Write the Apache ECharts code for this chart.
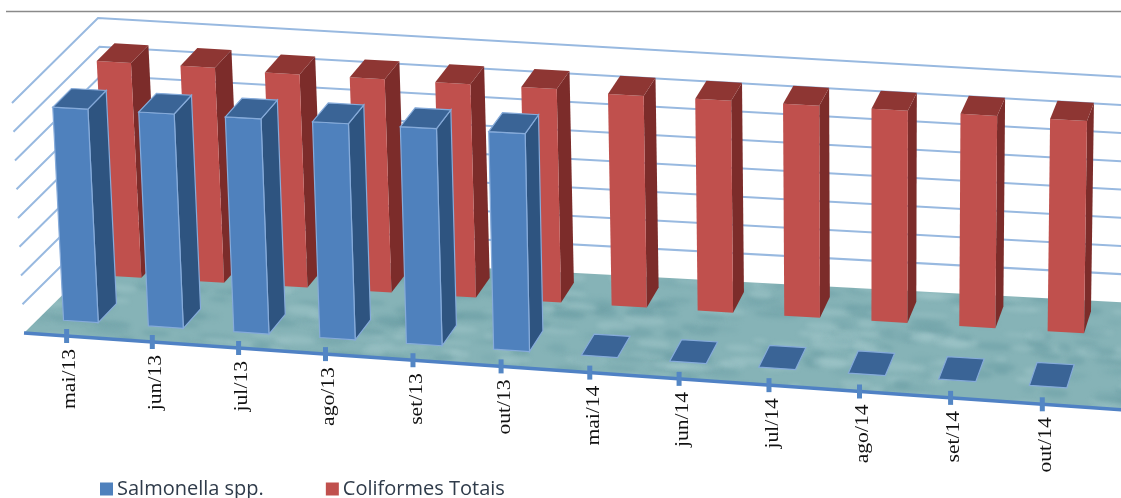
<!DOCTYPE html>
<html>
<head>
<meta charset="utf-8">
<style>html,body{margin:0;padding:0;background:#fff}#chart{width:1121px;height:498px}</style>
<script src="https://cdn.jsdelivr.net/npm/echarts@6/dist/echarts.min.js"></script>
</head>
<body>
<div id="chart"></div>
<script>
// Monthly results for two indicators, shown as bars standing on a tilted floor.
const months = ['mai/13','jun/13','jul/13','ago/13','set/13','out/13','mai/14','jun/14','jul/14','ago/14','set/14','out/14'];
const salmonella = [111,111,111,111,111,111,0,0,0,0,0,0];
const coliformes = [112,112,111,111,111,111,110,110,110,110,110,110];
const gridTicks = [15,30,45,60,75,90,105,120];

// Box corners of the tilted scene: [x, y] on the page, floor then ceiling, front then back.
const floorFront = [[24,333],[1181,414]];
const floorBack  = [[110,248],[1208,307]];
const topFront   = [[12,103],[1186,167]];
const topBack    = [[98,18],[1213,82]];

const rowDepth = { salmonella: [0.17,0.39], coliformes: [0.69,0.90] };
const barShare = 0.41;
const EXTRA = 13/12;   // the floor runs on past the last category

function lerp(a,b,k){ return [a[0]+(b[0]-a[0])*k, a[1]+(b[1]-a[1])*k]; }

// t: 0..1 across the category band, d: 0..1 front to back, h: 0..1 up the value axis
function project(t,d,h){
  const T = t/EXTRA;
  const u = T + 0.044*T*(T-1);
  const f = lerp(lerp(floorFront[0],floorFront[1],u), lerp(floorBack[0],floorBack[1],u), d);
  const c = lerp(lerp(topFront[0],topFront[1],u), lerp(topBack[0],topBack[1],u), d);
  return lerp(f,c,h);
}

// Water-like mottling for the floor: soft flat ripples scattered by a fixed hash.
// The canvas covers the whole page so the fill never shows a repeat seam.
function floorTexture(){
  const W = 1140, H = 498;
  const hash = (n)=>{ const s = Math.sin(n*12.9898)*43758.5453; return s-Math.floor(s); };
  const c = document.createElement('canvas');
  c.width = W; c.height = H;
  const g = c.getContext('2d');
  g.fillStyle = '#86B3B7';
  g.fillRect(0,0,W,H);
  g.filter = 'blur(2px)';
  for(let i=0;i<2000;i++){
    const px = hash(i+1)*W, py = hash(i+5001)*H;
    const rx = 6+hash(i+2001)*18, ry = 1.5+hash(i+3001)*3.5;
    const tone = hash(i+4001);
    g.fillStyle = tone<0.4 ? 'rgba(100,152,160,0.40)' : (tone<0.75 ? 'rgba(170,206,208,0.36)' : 'rgba(116,166,172,0.32)');
    g.beginPath();
    g.ellipse(px,py,rx,ry,0.07,0,Math.PI*2);
    g.fill();
  }
  return c;
}
const waterImage = floorTexture();

function bandParams(params,api,idx,val){
  const r = params.coordSys;
  const p = api.coord([idx,val]);
  const band = api.size([1,0])[0];
  return {
    t: (p[0]-r.x)/r.width,
    h: (r.y+r.height-p[1])/r.height,
    half: band*barShare/2/r.width
  };
}

function renderBar(row,faces){
  return function(params,api){
    const idx = api.value(0), val = api.value(1);
    const b = bandParams(params,api,idx,val);
    const d0 = rowDepth[row][0], d1 = rowDepth[row][1];
    const t0 = b.t-b.half, t1 = b.t+b.half;
    const poly = (pts,fill)=>({type:'polygon',shape:{points:pts},
      style:{fill:fill,stroke:faces.edge,lineWidth:faces.edge?1.2:0}});
    const top = poly([project(t0,d0,b.h),project(t1,d0,b.h),project(t1,d1,b.h),project(t0,d1,b.h)],faces.top);
    if(val===0) return {type:'group',children:[top]};
    return {type:'group',children:[
      poly([project(t1,d0,0),project(t1,d1,0),project(t1,d1,b.h),project(t1,d0,b.h)],faces.side),
      poly([project(t0,d0,0),project(t1,d0,0),project(t1,d0,b.h),project(t0,d0,b.h)],faces.front),
      top
    ]};
  };
}

function renderFloor(params){
  return {type:'group',children:[
    {type:'polygon',shape:{points:[project(0,0,0),project(EXTRA,0,0),project(EXTRA,1,0),project(0,1,0)]},
     style:{fill:{image:waterImage,repeat:'repeat'}}},
    {type:'line',shape:{x1:project(0,0,0)[0],y1:project(0,0,0)[1],x2:project(EXTRA,0,0)[0],y2:project(EXTRA,0,0)[1]},
     style:{stroke:'#4F81C4',lineWidth:3.5}}
  ]};
}

function renderWall(params,api){
  const r = params.coordSys;
  const p = api.coord([0,api.value(0)]);
  const h = (r.y+r.height-p[1])/r.height;
  const pts = [project(0,0,h),project(0,1,h),project(EXTRA,1,h)];
  return {type:'polyline',shape:{points:pts},style:{fill:null,stroke:'#98B9E0',lineWidth:2}};
}

function renderTick(params,api){
  const r = params.coordSys;
  const idx = api.value(0);
  const t = (api.coord([idx,0])[0]-r.x)/r.width;
  const p = project(t,0,0);
  return {type:'group',children:[
    {type:'line',shape:{x1:p[0],y1:p[1]-7,x2:p[0],y2:p[1]+7},style:{stroke:'#5386C4',lineWidth:5}},
    {type:'text',x:p[0]+4,y:p[1]+13,rotation:Math.PI/2,scaleX:1.2,
     style:{text:months[idx],align:'right',verticalAlign:'middle',fill:'#111',
            font:'18px "Liberation Serif"'}}
  ]};
}

const blueFaces = {front:'#4F81BD',side:'#2E5480',top:'#3A6496',edge:'#86ABDA'};
const redFaces  = {front:'#C0504D',side:'#7C2C2A',top:'#8E3633',edge:null};

const chart = echarts.init(document.getElementById('chart'));
chart.setOption({
  animation:false,
  backgroundColor:'#fff',
  grid:{left:0,right:0,top:0,bottom:0},
  xAxis:{type:'category',data:months,show:false},
  yAxis:{type:'value',min:0,max:120,interval:15,show:false},
  legend:{
    left:95,top:474,itemWidth:13,itemHeight:13,itemGap:62,icon:'rect',
    data:['Salmonella spp.','Coliformes Totais'],
    textStyle:{fontFamily:'"Open Sans"',fontSize:20,color:'#2F3B4A',padding:[0,0,0,-1]}
  },
  graphic:[{type:'line',shape:{x1:6,y1:11.5,x2:1121,y2:11.5},style:{stroke:'#8A8A8A',lineWidth:1.5}}],
  series:[
    {type:'custom',name:'piso',coordinateSystem:'cartesian2d',data:[0],z:1,silent:true,renderItem:renderFloor},
    {type:'custom',name:'grade',coordinateSystem:'cartesian2d',data:gridTicks.map(v=>[v]),z:2,silent:true,
     encode:{y:0},renderItem:renderWall},
    {type:'custom',name:'Coliformes Totais',coordinateSystem:'cartesian2d',z:3,
     itemStyle:{color:'#C0504D'},data:coliformes.map((v,i)=>[i,v]),
     encode:{x:0,y:1},renderItem:renderBar('coliformes',redFaces)},
    {type:'custom',name:'Salmonella spp.',coordinateSystem:'cartesian2d',z:4,
     itemStyle:{color:'#4F81BD'},data:salmonella.map((v,i)=>[i,v]),
     encode:{x:0,y:1},renderItem:renderBar('salmonella',blueFaces)},
    {type:'custom',name:'meses',coordinateSystem:'cartesian2d',z:5,silent:true,
     data:months.map((m,i)=>[i]),encode:{x:0},renderItem:renderTick}
  ]
});
</script>
</body>
</html>
